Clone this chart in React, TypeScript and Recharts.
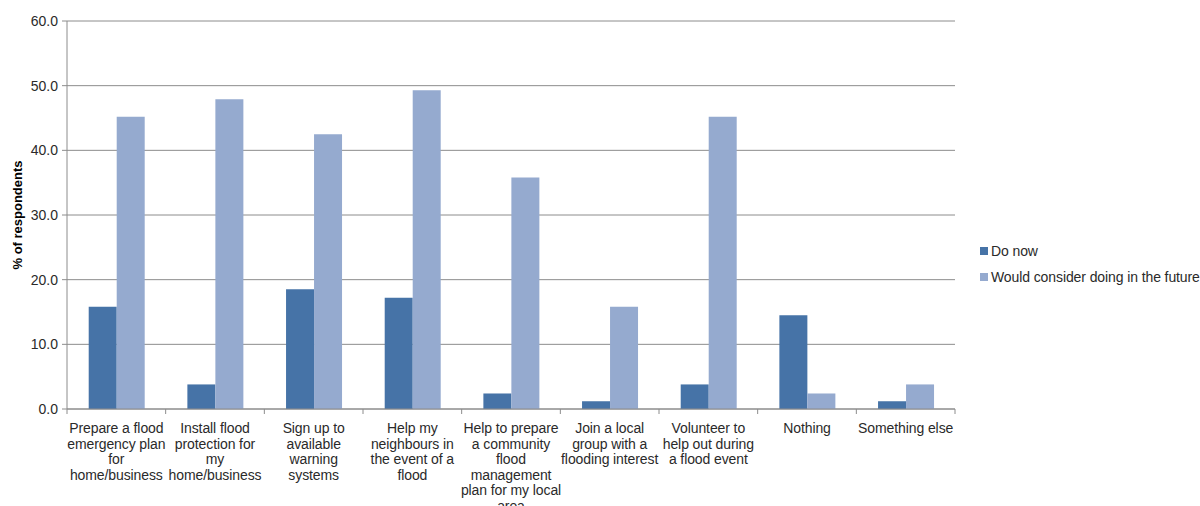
import React from 'react';
import { BarChart, Bar, XAxis, YAxis, CartesianGrid } from 'recharts';

const categories: string[][] = [
  ['Prepare a flood', 'emergency plan', 'for', 'home/business'],
  ['Install flood', 'protection for', 'my', 'home/business'],
  ['Sign up to', 'available', 'warning', 'systems'],
  ['Help my', 'neighbours in', 'the event of a', 'flood'],
  ['Help to prepare', 'a community', 'flood', 'management', 'plan for my local', 'area'],
  ['Join a local', 'group with a', 'flooding interest'],
  ['Volunteer to', 'help out during', 'a flood event'],
  ['Nothing'],
  ['Something else'],
];
const doNow = [15.8, 3.8, 18.5, 17.2, 2.4, 1.2, 3.8, 14.5, 1.2];
const wouldConsider = [45.2, 47.9, 42.5, 49.3, 35.8, 15.8, 45.2, 2.4, 3.8];
const yTicks = [0, 10, 20, 30, 40, 50, 60];
const seriesNames = ['Do now', 'Would consider doing in the future'];

const DARK = '#4673a7';
const LIGHT = '#95aacf';
const GRID = '#8c8c8c';
const TEXT = '#2a2a2a';
const FONT = '"Liberation Sans", Arial, sans-serif';

const data = categories.map((c, i) => ({
  key: String(i),
  doNow: doNow[i],
  would: wouldConsider[i],
}));

const W = 1200;
const H = 506;
const MARGIN = { top: 21, right: 245, left: 0, bottom: 0 };
const YW = 67;
const XH = 97;
const PLOT_W = W - MARGIN.left - MARGIN.right - YW;
const BAND = PLOT_W / categories.length;

const XTick = (props: any) => {
  const { x, y, payload, index } = props;
  const lines = categories[Number(payload.value)] || [];
  const left = x - BAND / 2;
  const right = x + BAND / 2;
  return (
    <g>
      <line x1={left} x2={left} y1={y - 8} y2={y - 3} stroke={GRID} />
      {index === categories.length - 1 && (
        <line x1={right} x2={right} y1={y - 8} y2={y - 3} stroke={GRID} />
      )}
      <text x={x} y={y + 16} textAnchor="middle" fontFamily={FONT} fontSize={14} fill={TEXT} letterSpacing={-0.1}>
        {lines.map((l, i) => (
          <tspan key={i} x={x} dy={i === 0 ? 0 : 15.5}>
            {l}
          </tspan>
        ))}
      </text>
    </g>
  );
};

const LegendBox = () => (
  <div
    style={{
      position: 'absolute',
      left: 980,
      top: 242,
      fontFamily: FONT,
      fontSize: 14,
      color: TEXT,
      letterSpacing: -0.1,
    }}
  >
    {seriesNames.map((n, i) => (
      <div key={n} style={{ display: 'flex', alignItems: 'center', height: 17, marginBottom: 9, whiteSpace: 'nowrap' }}>
        <span style={{ display: 'inline-block', width: 8, height: 8, background: i === 0 ? DARK : LIGHT, marginRight: 3 }} />
        <span>{n}</span>
      </div>
    ))}
  </div>
);

export default function App() {
  return (
    <div style={{ position: 'absolute', left: 0, top: 0, width: W, height: H, background: '#fff' }}>
      <BarChart width={W} height={H} data={data} margin={MARGIN} barGap={0} barCategoryGap="22%">
        <CartesianGrid vertical={false} stroke={GRID} strokeWidth={1} />
        <XAxis
          dataKey="key"
          height={XH}
          interval={0}
          tickLine={false}
          axisLine={{ stroke: GRID }}
          tick={<XTick />}
        />
        <YAxis
          width={YW}
          domain={[0, 60]}
          ticks={yTicks}
          tickFormatter={(v: number) => v.toFixed(1)}
          axisLine={{ stroke: GRID }}
          tickLine={{ stroke: GRID }}
          tickSize={5}
          tickMargin={4}
          tick={{ fontFamily: FONT, fontSize: 14, fill: TEXT }}
          label={{
            content: (p: any) => {
              const vb = p.viewBox || {};
              const cy = (vb.y || 0) + (vb.height || 0) / 2;
              return (
                <text
                  x={19}
                  y={cy}
                  transform={`rotate(-90, 19, ${cy})`}
                  textAnchor="middle"
                  dominantBaseline="middle"
                  fontFamily={FONT}
                  fontSize={13}
                  fontWeight="bold"
                  fill="#000"
                >
                  % of respondents
                </text>
              );
            },
          }}
        />
        <Bar dataKey="doNow" name={seriesNames[0]} fill={DARK} isAnimationActive={false} />
        <Bar dataKey="would" name={seriesNames[1]} fill={LIGHT} isAnimationActive={false} />
      </BarChart>
      <LegendBox />
    </div>
  );
}
